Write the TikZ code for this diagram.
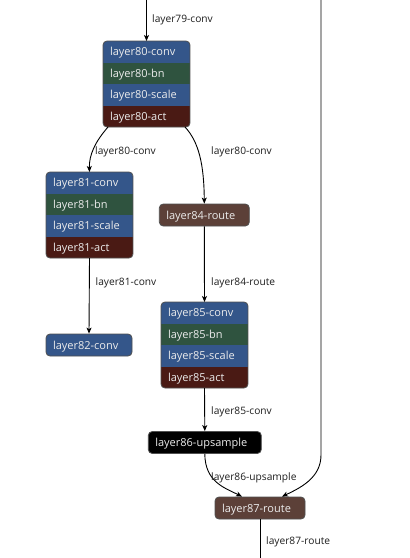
\documentclass[tikz,border=0pt]{standalone}
\usepackage{fontspec}
\setmainfont{Open Sans}
\usetikzlibrary{arrows.meta,fit}
\definecolor{convc}{RGB}{52,86,138}
\definecolor{bnc}{RGB}{47,83,63}
\definecolor{actc}{RGB}{74,26,20}
\definecolor{routec}{RGB}{92,64,56}
\definecolor{bordc}{RGB}{80,80,80}
\definecolor{ntext}{RGB}{236,236,236}
\definecolor{labc}{RGB}{30,30,30}
\tikzset{
  rowbox/.style={anchor=north west, inner xsep=7pt, inner ysep=0pt, text width=73pt, align=left,
    text height=10pt, text depth=2pt,
    minimum height=21.5pt, outer sep=0pt, text=ntext, font=\fontsize{11}{12}\selectfont},
  singlebox/.style={inner xsep=7pt, inner ysep=0pt, text width=#1, align=left,
    text height=10pt, text depth=2pt,
    minimum height=22pt, text=ntext, font=\fontsize{11}{12}\selectfont,
    draw=bordc, line width=0.8pt, rounded corners=4pt},
  blockborder/.style={draw=bordc, line width=0.8pt, rounded corners=4pt},
  edge/.style={draw=black, line width=0.9pt, -{Stealth[length=6pt,width=5pt,inset=1.5pt]}},
  elabel/.style={anchor=west, text=labc, font=\fontsize{10.2}{12}\selectfont, inner sep=0pt}
}
\newcommand\layerblock[3]{%
  \begin{scope}
    \clip[rounded corners=4pt] (#2,#3) rectangle ++(87,86);
    \node[rowbox,fill=convc] (L#1c) at (#2,#3) {layer#1-conv};
    \node[rowbox,fill=bnc] (L#1b) at (#2,#3+21.5) {layer#1-bn};
    \node[rowbox,fill=convc] (L#1s) at (#2,#3+43) {layer#1-scale};
    \node[rowbox,fill=actc,minimum height=22.5pt] (L#1a) at (#2,#3+64.5) {layer#1-act};
  \end{scope}
  \draw[blockborder] (#2,#3) rectangle ++(87,86);
  \coordinate (L#1tl) at (#2,#3);
  \coordinate (L#1br) at (#2+87,#3+86);
  \node[fit=(L#1tl)(L#1br), inner sep=0pt, outer sep=0pt] (L#1) {};
}
\begin{document}
\begin{tikzpicture}[x=1pt,y=-1pt]
\useasboundingbox[fill=white] (0,0) rectangle (410,558);

\layerblock{80}{103}{41}
\layerblock{81}{46}{172}
\layerblock{85}{161}{302}

\node[singlebox=76pt, fill=routec] (R84) at (204.3,215) {layer84-route};
\node[singlebox=72pt, fill=convc] (C82) at (89,345) {layer82-conv};
\node[singlebox=99pt, fill=black] (U86) at (204.8,442.5) {layer86-upsample};
\node[singlebox=76pt, fill=routec] (R87) at (260,508) {layer87-route};

\coordinate (t79) at (L80.north |- 0,0);
\coordinate (rt) at (321,0);
\coordinate (rb) at (321,455);
\coordinate (out) at (R87.south |- 0,558);

\draw[edge] (t79) -- (L80.north);
\draw[edge] ([xshift=5pt]L80.south west) .. controls (95,142) and (89,155) .. (L81.north);
\draw[edge] ([xshift=-5pt]L80.south east) .. controls (199,142) and (204,165) .. (R84.north);
\draw[edge] (L81.south) -- (C82.north);
\draw[edge] (R84.south) -- (L85.north);
\draw[edge] (L85.south) -- (U86.north);
\draw[edge] (U86.south) .. controls (205,482) and (225,488) .. ([xshift=-18pt]R87.north);
\draw[edge] (rt) -- (rb) .. controls (321,478) and (300,488) .. ([xshift=22pt]R87.north);
\draw[draw=black, line width=0.9pt] (R87.south) -- (out);

\node[elabel] (l79) at (152,20) {layer79-conv};
\node[elabel] (l80a) at (95,152) {layer80-conv};
\node[elabel] (l80b) at (211,152) {layer80-conv};
\node[elabel] (l81) at (95.5,282.5) {layer81-conv};
\node[elabel] (l84) at (211,282.5) {layer84-route};
\node[elabel] (l85) at (211,412) {layer85-conv};
\node[elabel] (l86) at (211,478) {layer86-upsample};
\node[elabel] (l87) at (266,542) {layer87-route};
\end{tikzpicture}
\end{document}
